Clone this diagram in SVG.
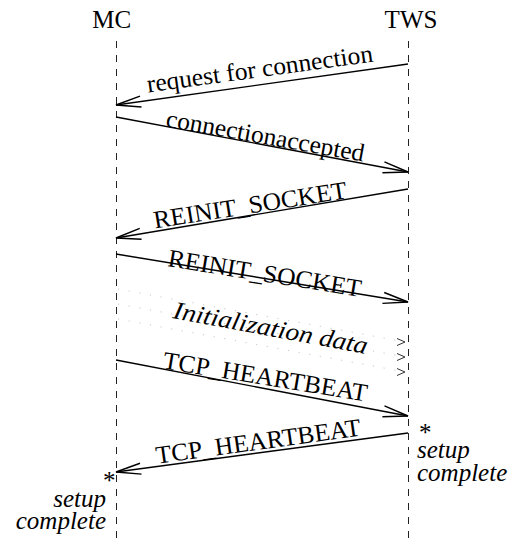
<svg xmlns="http://www.w3.org/2000/svg" width="511" height="542" viewBox="0 0 511 542">
<style>
.t{font-family:"Liberation Serif","Times New Roman",serif;font-size:25px;fill:#000}
.i{font-style:italic}
.life{stroke:#222;stroke-width:1;stroke-dasharray:7,7;fill:none}
.msg{stroke:#000;stroke-width:1.4;fill:none;marker-end:url(#open)}
.dot{stroke:#c8c8c8;stroke-width:1;stroke-dasharray:1.2,9.6;fill:none}
.sm{stroke:#333;stroke-width:1;fill:none}
</style>
<defs>
<marker id="open" markerUnits="userSpaceOnUse" markerWidth="30" markerHeight="14" refX="0" refY="0" orient="auto" overflow="visible">
<path d="M-25,-5.5 L0,0 L-25,5.5" fill="none" stroke="#000" stroke-width="1.4"/>
</marker>
</defs>
<rect width="511" height="542" fill="#fff"/>
<g id="MC">
<text class="t" x="111.7" y="28" text-anchor="middle">MC</text>
<line class="life" x1="116.5" y1="41" x2="116.5" y2="542"/>
</g>
<g id="TWS">
<text class="t" x="411" y="28" text-anchor="middle">TWS</text>
<line class="life" x1="408.5" y1="41" x2="408.5" y2="542"/>
</g>
<g id="connectors">
<line class="msg" x1="408" y1="64" x2="116" y2="105"/>
<text class="t" transform="translate(148,92.4) scale(1.02,1) rotate(-7.95)">request for connection</text>
<line class="msg" x1="116" y1="117" x2="408" y2="172"/>
<text class="t" transform="translate(165,126.4) scale(1.02,1) rotate(10.29)">connectionaccepted</text>
<line class="msg" x1="408" y1="189" x2="116" y2="238"/>
<text class="t" transform="translate(155,228.5) scale(1.02,1) rotate(-9.16)">REINIT_SOCKET</text>
<line class="msg" x1="116" y1="254" x2="408" y2="302"/>
<text class="t" transform="translate(167,266) scale(1.02,1) rotate(9.27)">REINIT_SOCKET</text>
<line class="dot" x1="118" y1="289" x2="400" y2="341"/>
<line class="dot" x1="118" y1="304" x2="400" y2="356"/>
<line class="dot" x1="118" y1="319" x2="400" y2="371"/>
<path class="sm" d="M397,338.5 L405,342 L397,345.5 M397,353.5 L405,357 L397,360.5 M397,368.5 L405,372 L397,375.5"/>
<text class="t i" transform="translate(172,318) scale(1.1,1) rotate(11.54)">Initialization data</text>
<line class="msg" x1="116" y1="360" x2="408" y2="416"/>
<text class="t" transform="translate(162,368.2) scale(1.02,1) rotate(9.44)">TCP_HEARTBEAT</text>
<line class="msg" x1="408" y1="433" x2="116" y2="472"/>
<text class="t" transform="translate(157,463.7) scale(1.02,1) rotate(-8.01)">TCP_HEARTBEAT</text>
</g>
<g id="note-TWS">
<text class="t" x="419" y="441">*</text>
<text class="t i" x="417" y="458">setup</text>
<text class="t i" x="417" y="481">complete</text>
</g>
<g id="note-MC">
<text class="t" x="103" y="489">*</text>
<text class="t i" x="106" y="507" text-anchor="end">setup</text>
<text class="t i" x="106" y="529" text-anchor="end">complete</text>
</g>
</svg>
